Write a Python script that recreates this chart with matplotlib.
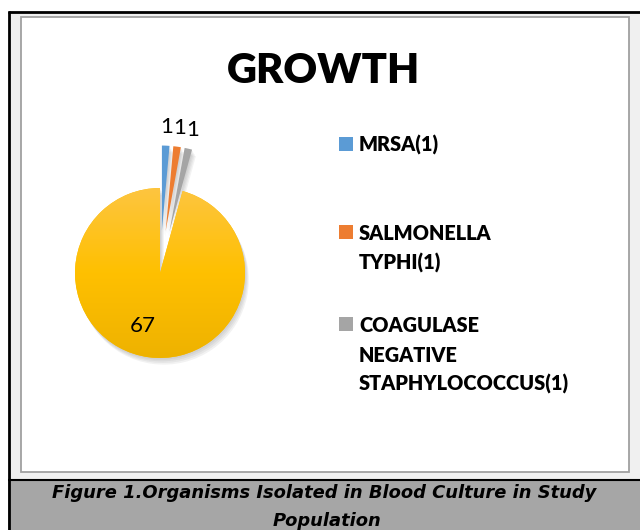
import numpy as np
import matplotlib.pyplot as plt
import matplotlib.patches as mpatches
from matplotlib.colors import LinearSegmentedColormap

# values
organisms = ['MRSA', 'SALMONELLA TYPHI', 'COAGULASE NEGATIVE STAPHYLOCOCCUS', 'NO GROWTH']
counts = [1, 1, 1, 67]
legend_lines = [['MRSA(1)'], ['SALMONELLA', 'TYPHI(1)'], ['COAGULASE', 'NEGATIVE', 'STAPHYLOCOCCUS(1)']]
colors = ['#5B9BD5', '#ED7D31', '#A5A5A5', '#FFC000']
explode = [0.5, 0.5, 0.5, 0]
title = 'GROWTH'
caption = ['Figure 1.Organisms Isolated in Blood Culture in Study', 'Population']

W, H = 640, 530
PIE_X, PIE_Y, PIE_R = 160, 273, 85   # pixels


def main():
    fig = plt.figure(figsize=(W / 100, H / 100), dpi=100)
    fig.patch.set_facecolor('white')

    # background axes in pixel units, y pointing down
    bg = fig.add_axes([0, 0, 1, 1])
    bg.set_xlim(0, W)
    bg.set_ylim(H, 0)
    bg.axis('off')

    bg.add_patch(mpatches.Rectangle((8, 11), W - 8, 468, facecolor='#f0f0f0', edgecolor='none'))
    bg.add_patch(mpatches.Rectangle((21, 17), 608, 455, facecolor='white',
                                    edgecolor='#a0a0a0', lw=1.3))
    bg.add_patch(mpatches.Rectangle((8, 479), W - 8, H - 479, facecolor='#a6a6a6', edgecolor='none'))
    bg.plot([8, W], [12, 12], color='black', lw=2, solid_capstyle='butt')
    bg.plot([9, 9], [11, H], color='black', lw=2, solid_capstyle='butt')
    bg.plot([8, W], [479.5, 479.5], color='black', lw=1.5, solid_capstyle='butt')

    bg.text(323, 83, title, ha='center', va='baseline', fontsize=30,
            fontweight='heavy', family='Lato')

    bg.text(324, 498.5, caption[0], ha='center', va='baseline', fontsize=12.9,
            fontweight='bold', style='italic', family='DejaVu Sans')
    bg.text(327, 526.5, caption[1], ha='center', va='baseline', fontsize=12.9,
            fontweight='bold', style='italic', family='DejaVu Sans')

    # legend (first line baseline of each entry)
    for lines, col, yb in zip(legend_lines, colors, [152, 240, 332]):
        bg.add_patch(mpatches.Rectangle((339, yb - 15), 14, 14, facecolor=col, edgecolor='none'))
        for i, line in enumerate(lines):
            bg.text(359, yb + i * 29.5, line, ha='left', va='baseline', fontsize=14.3,
                    fontweight='heavy', family='Lato')

    # pie
    size = 2.5 * PIE_R
    ax = fig.add_axes([(PIE_X - size / 2) / W, 1 - (PIE_Y + size / 2) / H, size / W, size / H])
    wedges, _ = ax.pie(counts, colors=colors, explode=explode, startangle=90,
                       counterclock=False, wedgeprops=dict(linewidth=0))
    for w in wedges:
        for k in range(1, 5):
            ax.add_patch(mpatches.Shadow(w, 0.008 * k, -0.014 * k, facecolor='#707070',
                                         edgecolor='none', alpha=0.09))

    # soft vertical gradient on the big slice
    big = wedges[counts.index(max(counts))]
    grad = np.linspace(0, 1, 256).reshape(-1, 1)
    cmap = LinearSegmentedColormap.from_list('yel', ['#FDC540', '#FFC000', '#EEB200'])
    im = ax.imshow(grad, cmap=cmap, extent=(-1, 1, -1, 1), origin='upper',
                   aspect='auto', zorder=1.5)
    im.set_clip_path(big)

    for w, c in zip(wedges, counts):
        mid = np.deg2rad((w.theta1 + w.theta2) / 2)
        d = 1.22 if c < 10 else 0.63
        dx = 0 if c < 10 else -0.12
        x0, y0 = w.center
        ax.text(x0 + d * w.r * np.cos(mid) + dx, y0 + d * w.r * np.sin(mid), str(c),
                ha='center', va='center', fontsize=16, family='Lato', zorder=3)

    ax.set_xlim(-1.25, 1.25)
    ax.set_ylim(-1.25, 1.25)
    ax.set_aspect('equal')
    ax.axis('off')

    fig.savefig('out.png', dpi=100)


if __name__ == '__main__':
    main()
